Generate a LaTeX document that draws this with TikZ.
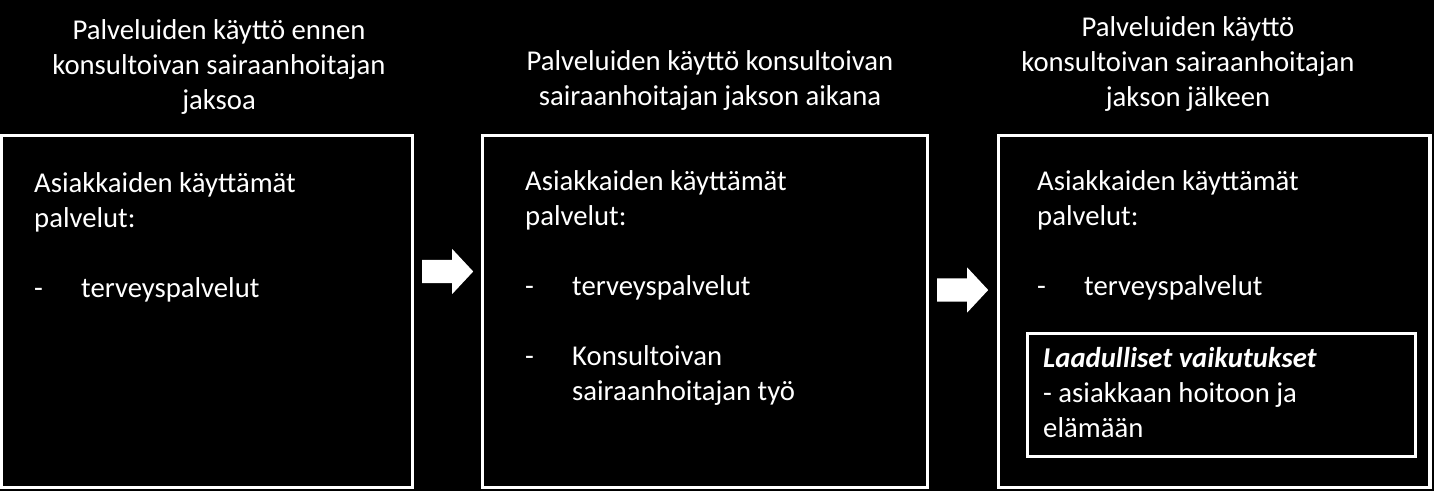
\documentclass[tikz,border=0pt]{standalone}
\usepackage{fontspec}
\setmainfont{Carlito}
\usetikzlibrary{shapes.arrows}
\tikzstyle{panel} = [draw=white, line width=3.5pt, minimum height=352pt, inner sep=0pt, outer sep=0pt]
\tikzstyle{txt} = [text=white, inner sep=0pt, font=\fontsize{28.7}{35}\selectfont]
\tikzstyle{blockarrow} = [single arrow, fill=white, minimum height=51pt, minimum width=45pt, single arrow head extend=11pt, single arrow tip angle=94, inner xsep=0pt, inner ysep=11.5pt, anchor=tail]
\newcommand{\listdash}{\makebox[47pt][l]{-}}

\begin{document}
\begin{tikzpicture}[x=1pt,y=-1pt]
  \fill[black] (0,0) rectangle (1434,491);
  \useasboundingbox (0,0) rectangle (1434,491);

  % titles (base = last line)
  \node[txt, align=center, anchor=base] (t1) at (219,109) {Palveluiden käyttö ennen\\konsultoivan sairaanhoitajan\\jaksoa};
  \node[txt, align=center, anchor=base] (t2) at (710,105) {Palveluiden käyttö konsultoivan\\sairaanhoitajan jakson aikana};
  \node[txt, align=center, anchor=base] (t3) at (1188,106) {Palveluiden käyttö\\konsultoivan sairaanhoitajan\\jakson jälkeen};

  % boxes
  \node[panel, minimum width=411pt] (b1) at (207,311.5) {};
  \node[panel, minimum width=445pt] (b2) at (705,311.5) {};
  \node[panel, minimum width=431.5pt] (b3) at (1214.25,311.5) {};

  % arrows
  \node[blockarrow] (a1) at (422,271.5) {};
  \node[blockarrow] (a2) at (937,290) {};

  % box contents
  \node[txt, align=left, anchor=base west] (p1) at (34,297) {Asiakkaiden käyttämät\\palvelut:\\[35pt]\listdash terveyspalvelut};
  \node[txt, align=left, anchor=base west] (p2) at (525,400) {Asiakkaiden käyttämät\\palvelut:\\[35pt]\listdash terveyspalvelut\\[35pt]\listdash Konsultoivan\\\hspace*{47pt}sairaanhoitajan työ};
  \node[txt, align=left, anchor=base west] (p3) at (1037,295) {Asiakkaiden käyttämät\\palvelut:\\[35pt]\listdash terveyspalvelut};

  \node[draw=white, line width=3pt, minimum width=388pt, minimum height=123pt, inner sep=0pt] (q) at (1221,394.5) {};
  \node[txt, align=left, anchor=base west] (q1) at (1043,437) {\textbf{\textit{Laadulliset vaikutukset}}\\- asiakkaan hoitoon ja\\elämään};
\end{tikzpicture}
\end{document}
